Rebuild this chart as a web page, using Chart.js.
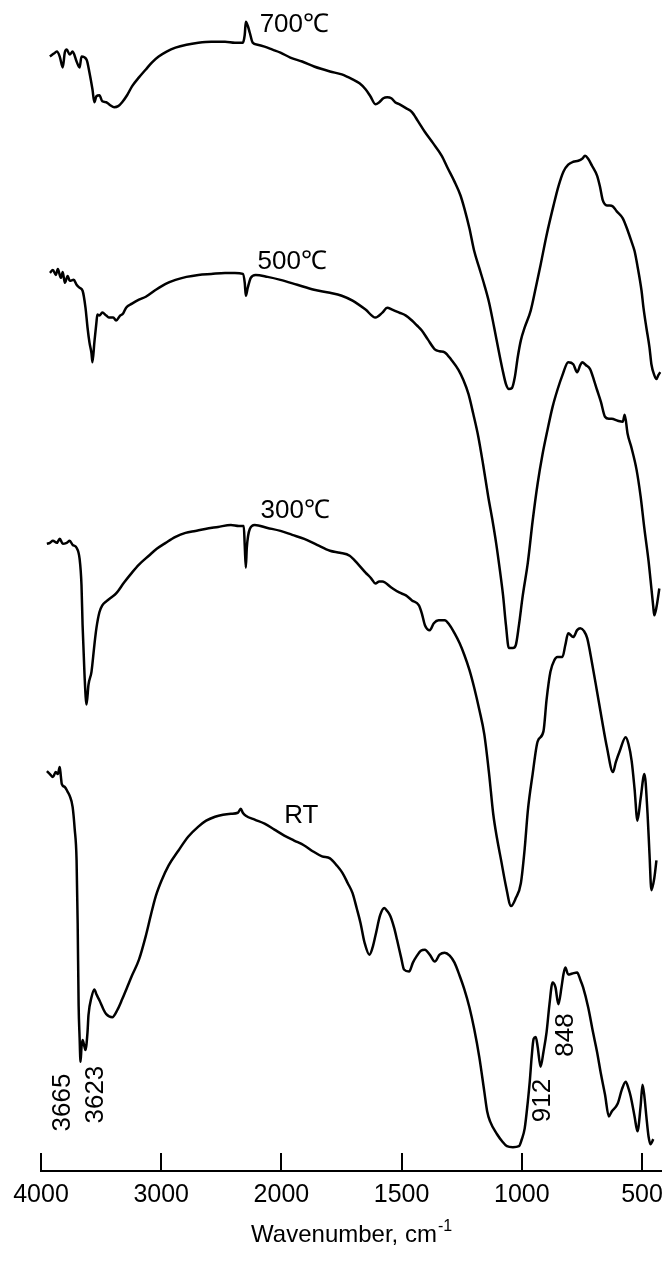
<!DOCTYPE html>
<html>
<head>
<meta charset="utf-8">
<title>IR spectra</title>
<script src="https://cdn.jsdelivr.net/npm/chart.js@4.4.1/dist/chart.umd.min.js"></script>
<style>
    html, body { margin: 0; padding: 0; background: #fff; }
    #wrap { width: 672px; height: 1263px; }
</style>
</head>
<body>
<div id="wrap"><canvas id="irChart" width="672" height="1263"></canvas></div>
<script>
// wavenumbers (cm-1) and offset transmittance (arbitrary units)
const wn700 = [3926,3893,3868,3844,3819,3802,3786,3761,3737,3704,3679,3663,3621,3597,3572,3556,3539,3514,3490,3457,3424,3391,3358,3325,3284,3243,3185,3128,3078,3021,2955,2881,2790,2691,2584,2469,2387,2321,2305,2296,2280,2263,2239,2198,2140,2074,2008,1963,1914,1864,1798,1749,1704,1675,1650,1630,1609,1593,1576,1560,1543,1527,1510,1482,1457,1432,1403,1370,1333,1309,1280,1255,1239,1218,1198,1177,1156,1136,1115,1095,1078,1066,1054,1041,1029,1017,1004,988,963,942,922,897,868,848,827,807,786,765,749,737,724,708,687,675,663,646,634,621,605,580,560,543,531,519,502,494,482,469,461,449,440,432,424];
const tr700 = [112.3,112.6,112.8,112.3,111.2,112.7,113.0,112.5,112.8,111.8,111.2,112.3,112.0,110.7,109.0,107.7,108.3,108.4,107.8,107.7,107.4,107.2,107.3,107.7,108.4,109.3,110.2,111.0,111.7,112.3,112.8,113.2,113.5,113.7,113.8,113.8,113.7,113.7,114.5,115.8,115.4,114.7,113.7,113.5,113.3,113.0,112.7,112.2,111.8,111.3,110.8,110.5,110.0,109.6,109.0,108.3,107.5,107.7,108.1,108.2,108.1,107.7,107.5,107.1,106.7,105.8,104.7,103.6,102.3,101.1,99.7,98.3,97.0,95.0,92.7,91.0,89.3,87.5,85.0,82.5,80.5,79.3,78.8,78.9,80.0,82.0,83.7,85.0,86.7,89.0,91.3,94.3,97.3,99.2,100.7,101.4,101.7,101.8,102.0,102.3,102.0,101.3,100.3,99.2,97.8,97.3,97.3,97.2,96.7,96.0,94.8,93.6,92.7,91.2,88.7,87.0,85.0,83.0,81.3,80.2,79.8,80.2,80.5];

const wn500 = [3926,3901,3877,3860,3835,3819,3802,3778,3761,3728,3704,3679,3654,3630,3613,3597,3580,3572,3556,3539,3531,3514,3490,3457,3432,3399,3375,3342,3317,3292,3243,3185,3128,3045,2963,2881,2790,2691,2584,2469,2387,2321,2305,2296,2280,2255,2214,2115,2008,1934,1864,1798,1749,1704,1650,1609,1580,1560,1539,1510,1482,1457,1436,1416,1391,1362,1342,1321,1292,1263,1243,1222,1202,1181,1161,1140,1123,1107,1091,1078,1066,1054,1037,1025,1012,996,975,955,934,914,893,872,852,831,807,786,770,757,749,733,716,700,687,671,654,638,626,601,580,572,560,543,523,506,490,473,461,453,449,440,428];
const tr500 = [90.5,90.8,90.3,90.9,90.0,90.6,89.5,90.2,89.7,89.8,89.3,89.0,88.7,87.0,85.0,83.5,82.4,81.5,83.5,85.5,86.3,86.2,86.5,86.2,86.0,86.0,85.7,86.2,86.4,87.0,87.4,87.8,88.1,88.8,89.4,89.8,90.1,90.3,90.4,90.5,90.5,90.4,89.5,88.2,89.0,90.0,90.3,90.1,89.8,89.3,88.8,88.5,88.2,87.7,86.8,86.0,86.5,87.0,86.8,86.5,86.2,85.7,85.2,84.7,83.8,82.8,82.6,82.5,81.7,80.7,79.7,78.3,76.3,74.0,71.2,68.0,65.7,63.3,60.5,58.0,55.0,52.7,52.7,53.0,55.0,58.0,61.3,65.5,69.3,72.2,74.7,77.0,78.7,80.2,81.5,81.3,80.5,81.2,81.5,81.2,80.8,79.7,78.7,77.5,76.0,75.8,75.8,75.6,75.5,76.2,74.3,72.8,70.7,68.0,64.7,61.5,58.7,56.8,56.0,56.8,58.7];

const wn300 = [3951,3926,3901,3868,3844,3819,3786,3761,3737,3704,3679,3663,3654,3638,3621,3605,3580,3556,3539,3514,3490,3457,3416,3375,3309,3243,3185,3103,3037,2963,2881,2798,2716,2634,2527,2420,2354,2313,2305,2296,2288,2263,2222,2115,2008,1955,1905,1852,1798,1757,1716,1683,1650,1626,1609,1593,1580,1543,1510,1482,1457,1428,1416,1403,1383,1366,1346,1321,1300,1280,1259,1239,1218,1198,1177,1156,1136,1119,1103,1086,1066,1045,1025,1004,988,975,955,934,910,897,881,864,852,831,819,807,786,770,757,741,728,708,687,667,646,621,609,593,568,556,543,531,519,506,490,477,469,461,449,440];
const tr300 = [63.2,63.3,63.5,63.3,63.7,63.2,63.3,63.5,63.1,62.8,61.7,59.0,55.0,50.0,47.0,49.0,50.3,53.0,54.7,56.3,57.0,57.4,57.8,58.2,59.3,60.3,61.1,62.0,62.7,63.3,63.9,64.3,64.5,64.7,64.9,65.1,65.0,65.0,63.0,60.8,62.8,64.7,65.1,64.8,64.5,64.1,63.7,63.1,62.5,62.3,62.0,61.2,60.3,59.7,59.2,59.4,59.4,58.8,58.3,58.0,57.5,57.0,56.2,55.0,54.5,55.2,55.5,55.5,55.0,54.2,53.2,52.0,50.5,48.7,46.5,44.0,40.0,36.0,33.5,31.3,28.7,26.7,27.5,29.0,32.5,36.3,40.0,43.3,44.3,47.5,50.3,51.5,51.8,51.8,53.0,54.2,53.8,54.5,54.7,54.4,53.7,51.2,48.3,45.5,42.7,40.2,41.2,42.3,43.7,43.0,41.3,38.5,35.3,37.5,40.0,36.0,32.0,28.3,29.5,31.3];

const wnRT = [3951,3926,3901,3877,3860,3844,3835,3827,3802,3778,3761,3737,3720,3704,3695,3687,3679,3671,3663,3654,3638,3630,3613,3605,3580,3556,3539,3514,3481,3457,3407,3366,3325,3284,3243,3185,3128,3086,3045,2996,2938,2856,2774,2691,2626,2552,2486,2420,2362,2338,2321,2296,2222,2140,2058,1988,1947,1905,1868,1831,1798,1770,1745,1724,1704,1687,1671,1654,1634,1621,1609,1589,1572,1560,1547,1531,1519,1502,1490,1469,1453,1436,1420,1403,1383,1362,1342,1321,1300,1280,1259,1239,1218,1198,1177,1156,1144,1132,1103,1082,1062,1037,1012,1000,988,975,967,959,951,942,934,922,910,897,885,872,860,848,835,827,819,807,790,770,757,745,724,704,687,671,654,638,626,601,584,568,556,547,531,519,506,498,490,482,473,465,453];
const trRT = [40.3,40.0,39.7,40.2,40.0,40.7,39.8,39.0,38.7,38.2,37.8,36.7,34.5,31.3,25.0,16.7,13.5,11.0,12.5,13.2,12.5,12.2,14.0,15.7,17.5,18.3,17.8,17.2,16.3,15.8,15.5,16.2,17.3,18.5,19.7,21.3,23.7,25.8,27.7,29.3,30.8,32.3,33.7,34.7,35.3,35.7,35.9,36.0,36.1,36.5,36.1,35.8,35.4,35.0,34.4,33.8,33.3,32.8,32.2,31.7,31.5,30.8,30.0,29.0,28.0,26.5,25.0,23.0,21.8,22.5,23.7,25.8,26.5,26.2,25.7,24.5,23.3,21.5,20.3,20.1,21.0,21.7,22.2,22.3,21.8,21.1,21.8,22.0,21.7,21.0,19.7,18.3,16.5,14.3,11.5,8.0,6.0,5.0,3.7,3.0,2.5,2.4,2.5,3.2,4.3,7.0,9.0,11.5,13.3,13.5,12.5,10.5,12.0,14.0,16.8,19.0,18.5,16.8,18.5,19.8,20.5,19.8,19.9,20.0,19.3,18.5,16.5,14.0,12.0,9.8,7.7,5.5,6.0,6.8,8.2,9.0,8.3,7.5,5.5,4.0,6.5,8.7,7.5,5.5,3.5,2.7,3.2];

const tickWavenumbers = [4000, 3000, 2000, 1500, 1000, 500];
const tickLabels = ["4000", "3000", "2000", "1500", "1000", "500"];
const seriesNames = ["700℃", "500℃", "300℃", "RT"];
const peakNames = ["3665", "3623", "912", "848"];

const FONT = '"Liberation Sans", Arial, sans-serif';

// the instrument doubles the chart scale below 2000 cm-1
function toAxis(w) {
    return w >= 2000 ? (4000 - w) / 1000 : 2 + (2000 - w) / 500;
}

function toPoints(wn, tr) {
    return wn.map((w, i) => ({ x: toAxis(w), y: tr[i] }));
}

// where the text sits, in wavenumber / transmittance units
const seriesLabelAt = [
    { w: 2181, t: 115.5 },
    { w: 2198, t: 91.6 },
    { w: 2173, t: 66.5 },
    { w: 1988, t: 35.8 },
];
const peakLabelAt = [
    { w: 3819, t: 6.9 },
    { w: 3547, t: 7.7 },
    { w: 912, t: 7.1 },
    { w: 815, t: 13.7 },
];

const decorations = {
    id: "decorations",
    afterDraw(chart) {
        const { ctx, chartArea } = chart;
        const xs = chart.scales.x;
        const ys = chart.scales.y;
        ctx.save();

        // tick marks stand up from the axis line
        ctx.strokeStyle = "#000";
        ctx.lineWidth = 2;
        tickWavenumbers.forEach((w) => {
            const px = Math.round(xs.getPixelForValue(toAxis(w)));
            ctx.beginPath();
            ctx.moveTo(px, chartArea.bottom);
            ctx.lineTo(px, chartArea.bottom - 18);
            ctx.stroke();
        });

        ctx.fillStyle = "#000";
        ctx.font = "26px " + FONT;
        ctx.textAlign = "left";
        ctx.textBaseline = "middle";
        seriesNames.forEach((name, i) => {
            const pos = seriesLabelAt[i];
            ctx.fillText(name, xs.getPixelForValue(toAxis(pos.w)), ys.getPixelForValue(pos.t));
        });

        ctx.textAlign = "center";
        peakNames.forEach((name, i) => {
            const pos = peakLabelAt[i];
            ctx.save();
            ctx.translate(xs.getPixelForValue(toAxis(pos.w)), ys.getPixelForValue(pos.t));
            ctx.rotate(-Math.PI / 2);
            ctx.fillText(name, 0, 0);
            ctx.restore();
        });

        // axis title with a raised -1
        const main = "Wavenumber, cm";
        const sup = "-1";
        ctx.font = "24px " + FONT;
        const mainW = ctx.measureText(main).width;
        ctx.font = "16px " + FONT;
        const supW = ctx.measureText(sup).width;
        const left = (chartArea.left + chartArea.right) / 2 - (mainW + supW) / 2;
        const base = chartArea.bottom + 71;
        ctx.textAlign = "left";
        ctx.textBaseline = "alphabetic";
        ctx.font = "24px " + FONT;
        ctx.fillText(main, left, base);
        ctx.font = "16px " + FONT;
        ctx.fillText(sup, left + mainW + 1, base - 11);

        ctx.restore();
    },
};

function lineSet(label, wn, tr) {
    return {
        label,
        data: toPoints(wn, tr),
        borderColor: "#000",
        borderWidth: 2.5,
        pointRadius: 0,
        fill: false,
        cubicInterpolationMode: "monotone",
    };
}

new Chart(document.getElementById("irChart").getContext("2d"), {
    type: "line",
    data: {
        datasets: [
            lineSet(seriesNames[0], wn700, tr700),
            lineSet(seriesNames[1], wn500, tr500),
            lineSet(seriesNames[2], wn300, tr300),
            lineSet(seriesNames[3], wnRT, trRT),
        ],
    },
    options: {
        responsive: false,
        animation: false,
        devicePixelRatio: 1,
        layout: { padding: { left: 41, right: 4, top: 0, bottom: 44 } },
        plugins: {
            legend: { display: false },
            tooltip: { enabled: false },
        },
        scales: {
            x: {
                type: "linear",
                min: 0,
                max: toAxis(420),
                afterBuildTicks: (scale) => {
                    scale.ticks = tickWavenumbers.map((w) => ({ value: toAxis(w) }));
                },
                grid: { display: false, drawTicks: false },
                border: { display: true, color: "#000", width: 2 },
                ticks: {
                    autoSkip: false,
                    maxRotation: 0,
                    padding: 9,
                    color: "#000",
                    font: { size: 25, family: FONT },
                    callback: (value) => {
                        const i = tickWavenumbers.findIndex((w) => Math.abs(toAxis(w) - value) < 1e-6);
                        return i >= 0 ? tickLabels[i] : "";
                    },
                },
            },
            y: {
                display: false,
                min: 0,
                max: 118,
            },
        },
    },
    plugins: [decorations],
});
</script>
</body>
</html>
